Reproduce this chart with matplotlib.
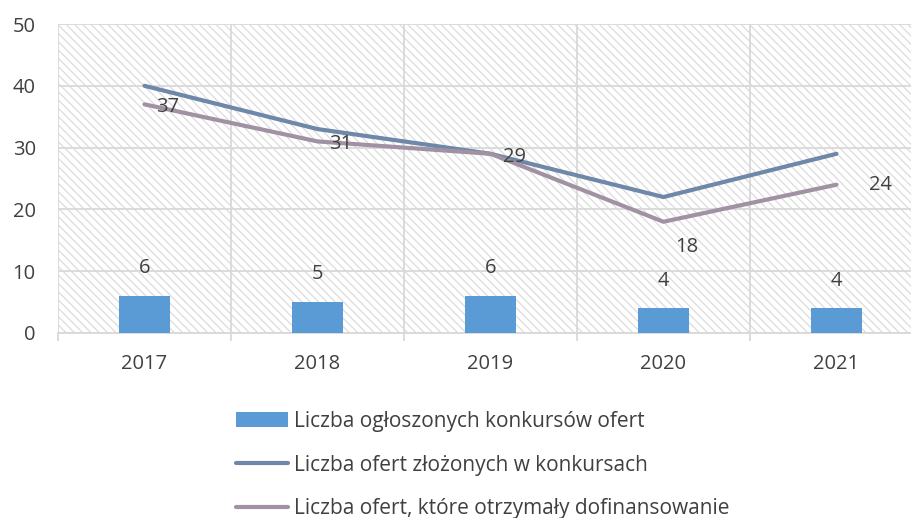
import matplotlib.pyplot as plt
from matplotlib.patches import Rectangle

plt.rcParams['font.family'] = ['Open Sans', 'DejaVu Sans']
plt.rcParams['hatch.color'] = '#dcdcdc'
plt.rcParams['hatch.linewidth'] = 0.9

years = ['2017', '2018', '2019', '2020', '2021']
konkursy = [6, 5, 6, 4, 4]
zlozone = [40, 33, 29, 22, 29]
dofinansowane = [37, 31, 29, 18, 24]

label_bar = 'Liczba ogłoszonych konkursów ofert'
label_zl = 'Liczba ofert złożonych w konkursach'
label_dof = 'Liczba ofert, które otrzymały dofinansowanie'

text_col = '#404040'
grid_col = '#d9d9d9'
fs = 14.5

fig = plt.figure(figsize=(9.12, 5.18), dpi=100)
ax = fig.add_axes([58 / 912, 1 - 333 / 518, 865 / 912, 309 / 518])

x = list(range(len(years)))

# hatched plot area background
ax.add_patch(Rectangle((0, 0), 1, 1, transform=ax.transAxes, facecolor='white',
                       edgecolor='#dcdcdc', hatch='\\\\\\\\', linewidth=0, zorder=0))

bars = ax.bar(x, konkursy, width=0.29, color='#5b9bd5', zorder=3, label=label_bar)
l1, = ax.plot(x, zlozone, color='#6f87a8', linewidth=3, zorder=4,
              solid_capstyle='round', label=label_zl)
l2, = ax.plot(x, dofinansowane, color='#a092a3', linewidth=3, zorder=4,
              solid_capstyle='round', label=label_dof)

for xi, v in zip(x, konkursy):
    ax.annotate(str(v), (xi, v), xytext=(0, 20), textcoords='offset points',
                ha='center', va='center', fontsize=fs, color=text_col, zorder=5)

offsets = [(17, -2), (17, -2), (17, -2), (17, -18), (32, 0)]
for xi, v, off in zip(x, dofinansowane, offsets):
    ax.annotate(str(v), (xi, v), xytext=off, textcoords='offset points',
                ha='center', va='center', fontsize=fs, color=text_col, zorder=5)

ax.set_xlim(-0.5, 4.5)
ax.set_ylim(0, 50)
ax.set_yticks([0, 10, 20, 30, 40, 50])
ax.set_xticks(x)
ax.set_xticklabels(years)
ax.set_xticks([i - 0.5 for i in range(len(years) + 1)], minor=True)
ax.grid(True, which='major', axis='y', color=grid_col, linewidth=1.3, zorder=1)
ax.grid(True, which='minor', axis='x', color=grid_col, linewidth=1.3, zorder=1)
ax.set_axisbelow(True)

ax.tick_params(axis='x', which='major', length=0, pad=15, labelsize=fs, labelcolor=text_col)
ax.tick_params(axis='x', which='minor', length=6, color=grid_col, width=1.3)
ax.tick_params(axis='y', length=0, pad=16, labelsize=fs, labelcolor=text_col)
for lab in ax.get_yticklabels():
    lab.set_horizontalalignment('right')

for s in ['top', 'right', 'left']:
    ax.spines[s].set_visible(False)
ax.spines['bottom'].set_color(grid_col)
ax.spines['bottom'].set_linewidth(1.3)

leg = fig.legend(handles=[bars, l1, l2], loc='center',
                 bbox_to_anchor=(483 / 912, 1 - 465 / 518), frameon=False,
                 fontsize=15, handlelength=2.5, handleheight=0.7,
                 handletextpad=0.3, labelspacing=1.1)
for t in leg.get_texts():
    t.set_color(text_col)

fig.savefig('out.png', dpi=100)
